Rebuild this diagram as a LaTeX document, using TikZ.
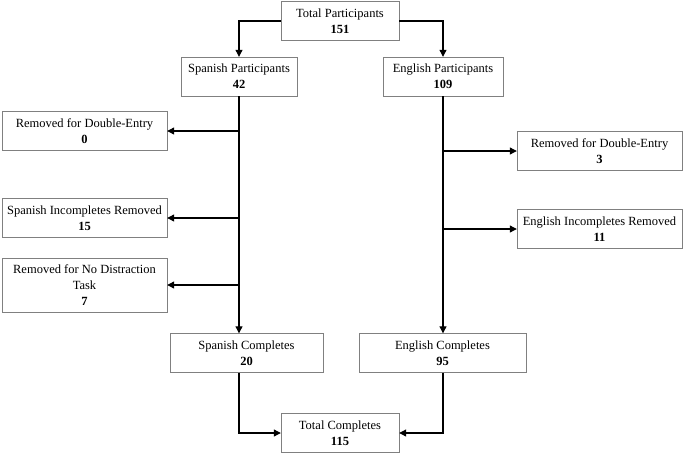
\documentclass[tikz,border=0pt]{standalone}
\usepackage{fontspec}
\setmainfont{Liberation Serif}
\usetikzlibrary{arrows.meta,positioning}

\begin{document}
\begin{tikzpicture}[x=1pt, y=-1pt,
    box/.style={draw=black!50, thin, align=center, font=\fontsize{12.5}{16}\selectfont, minimum height=39pt, inner sep=2pt},
    flow/.style={line width=1.1pt, -{Triangle[length=7pt,width=7pt]}}]
\useasboundingbox (0,0) rectangle (685,456);
% top
\node[box, minimum width=118pt] (total) at (340,21) {Total Participants\\\textbf{151}};
% Spanish column
\node[box, minimum width=116pt] (spa) at (239,76.5) {Spanish Participants\\\textbf{42}};
\node[box, minimum width=165pt] (sdbl) at (84.5,131) {Removed for Double-Entry\\\textbf{0}};
\node[box, minimum width=165pt] (sinc) at (84.5,218) {Spanish Incompletes Removed\\\textbf{15}};
\node[box, minimum width=165pt, minimum height=54pt] (sdis) at (84.5,285) {Removed for No Distraction\\Task\\\textbf{7}};
\node[box, minimum width=153pt] (scomp) at (246.5,353) {Spanish Completes\\\textbf{20}};
% English column
\node[box, minimum width=120pt] (eng) at (443,76.5) {English Participants\\\textbf{109}};
\node[box, minimum width=165pt] (edbl) at (599.5,151) {Removed for Double-Entry\\\textbf{3}};
\node[box, minimum width=165pt] (einc) at (599.5,229) {English Incompletes Removed\\\textbf{11}};
\node[box, minimum width=167pt] (ecomp) at (442.5,353) {English Completes\\\textbf{95}};
% bottom
\node[box, minimum width=118pt] (tcomp) at (340,433) {Total Completes\\\textbf{115}};
% connectors
\draw[flow] (total.west) -| (spa.north);
\draw[flow] (total.east) -| (eng.north);
\draw[flow] (spa.south) -- (spa.south |- scomp.north);
\draw[flow] (spa.south |- sdbl.east) -- (sdbl.east);
\draw[flow] (spa.south |- sinc.east) -- (sinc.east);
\draw[flow] (spa.south |- sdis.east) -- (sdis.east);
\draw[flow] (eng.south) -- (eng.south |- ecomp.north);
\draw[flow] (eng.south |- edbl.west) -- (edbl.west);
\draw[flow] (eng.south |- einc.west) -- (einc.west);
\draw[flow] (spa.south |- scomp.south) |- (tcomp.west);
\draw[flow] (eng.south |- ecomp.south) |- (tcomp.east);
\end{tikzpicture}
\end{document}
